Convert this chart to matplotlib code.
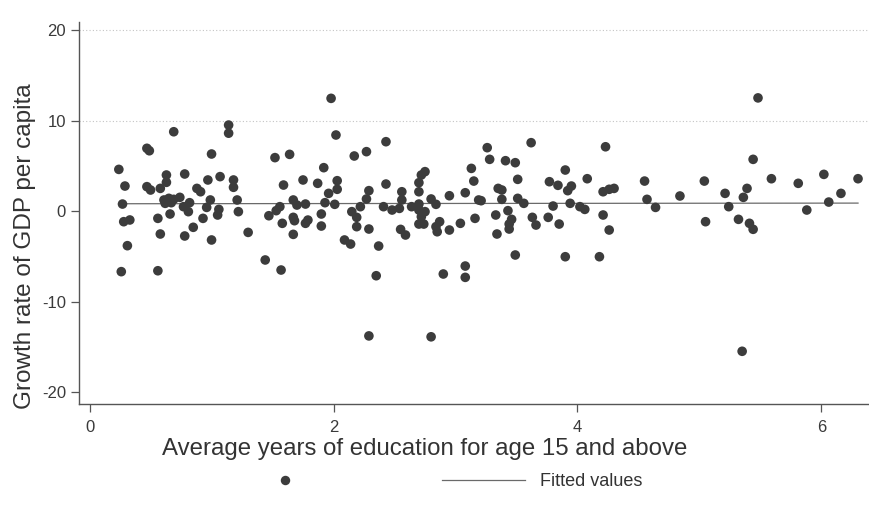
import matplotlib.pyplot as plt
from matplotlib.lines import Line2D
import numpy as np

plt.rcParams['font.family'] = ['Liberation Sans', 'DejaVu Sans']
plt.rcParams['axes.unicode_minus'] = False

# average years of schooling (age 15+) and GDP per capita growth, one pair per country
edu = [0.69, 0.47, 0.49, 1.00, 0.24, 0.29, 0.63, 0.78, 0.63, 0.47, 0.50, 0.58, 0.88, 0.91,
       0.97, 1.07, 1.14, 1.14, 0.27, 0.61, 0.65, 0.69, 0.74, 0.62, 0.67, 0.82, 0.77, 0.81,
       0.66, 0.99, 0.96, 1.06, 1.05, 0.28, 0.33, 0.56, 0.93, 0.85, 0.58, 0.78, 1.00, 0.31,
       0.26, 0.56,
       1.98, 2.02, 1.52, 1.64, 1.92, 1.18, 1.18, 1.59, 1.75, 1.87, 2.03, 2.03, 1.96, 1.21,
       1.22, 1.67, 1.70, 1.77, 1.93, 2.01, 1.56, 1.53, 1.47, 1.67, 1.68, 1.79, 1.77, 1.58,
       1.90, 1.90, 1.67, 1.30, 2.09, 2.14, 1.44, 1.57,
       2.43, 2.17, 2.27, 2.75, 2.72, 3.13, 3.15, 2.43, 2.29, 2.56, 2.70, 2.70, 2.95, 3.08,
       2.27, 2.56, 2.80, 2.84, 2.22, 2.15, 2.41, 2.48, 2.54, 2.64, 2.70, 2.70, 2.75, 2.19,
       2.19, 2.72, 2.70, 2.74, 2.84, 2.87, 2.85, 2.95, 3.04, 3.16, 3.19, 2.29, 2.55, 2.59,
       2.37, 2.35, 2.90, 3.08, 3.08, 2.29, 2.80,
       3.62, 3.26, 3.28, 3.41, 3.49, 3.90, 3.51, 4.08, 3.77, 3.84, 3.95, 3.92, 3.35, 3.38,
       3.38, 3.21, 3.51, 3.56, 3.80, 3.94, 4.02, 4.06, 3.33, 3.43, 3.46, 3.44, 3.44, 3.63,
       3.66, 3.76, 3.85, 3.34, 3.49, 3.90, 4.18,
       4.23, 4.21, 4.21, 4.26, 4.30, 4.26, 4.55, 4.57, 4.64, 4.84, 5.04, 5.05, 5.21, 5.24,
       5.48, 5.44, 5.59, 5.81, 6.02, 6.30, 5.39, 5.36, 6.16, 6.06, 5.88, 5.32, 5.41, 5.44,
       5.35]

growth = [8.76, 6.93, 6.66, 6.30, 4.60, 2.76, 3.98, 4.09, 3.17, 2.69, 2.32, 2.50, 2.50, 2.13,
          3.43, 3.80, 9.50, 8.60, 0.77, 1.22, 1.40, 1.29, 1.51, 0.85, 0.92, 0.92, 0.48, -0.07,
          -0.33, 1.22, 0.40, 0.18, -0.44, -1.18, -0.99, -0.81, -0.81, -1.80, -2.54, -2.76, -3.20, -3.83,
          -6.70, -6.60,
          12.45, 8.40, 5.90, 6.26, 4.79, 3.43, 2.62, 2.87, 3.43, 3.06, 3.35, 2.40, 1.95, 1.22,
          -0.07, 1.22, 0.66, 0.77, 0.92, 0.74, 0.48, 0.04, -0.52, -0.70, -1.07, -1.00, -1.36, -1.36,
          -0.33, -1.66, -2.58, -2.36, -3.20, -3.65, -5.41, -6.52,
          7.66, 6.08, 6.56, 4.35, 3.98, 4.71, 3.31, 2.98, 2.25, 2.13, 3.13, 2.13, 1.69, 2.02,
          1.33, 1.22, 1.33, 0.74, 0.48, -0.07, 0.48, 0.11, 0.29, 0.48, 0.77, 0.11, -0.07, -0.70,
          -1.73, -0.63, -1.44, -1.44, -1.73, -1.18, -2.29, -2.10, -1.36, -0.81, 1.22, -1.99, -2.03, -2.65,
          -3.87, -7.15, -6.96, -6.08, -7.33, -13.8, -13.9,
          7.55, 7.00, 5.71, 5.56, 5.34, 4.53, 3.50, 3.57, 3.24, 2.84, 2.76, 2.25, 2.50, 2.32,
          1.29, 1.14, 1.40, 0.85, 0.55, 0.85, 0.48, 0.18, -0.44, 0.04, -0.92, -1.44, -1.99, -0.70,
          -1.55, -0.70, -1.44, -2.54, -4.86, -5.05, -5.05,
          7.10, 2.13, -0.44, 2.40, 2.50, -2.10, 3.31, 1.29, 0.40, 1.66, 3.31, -1.18, 1.95, 0.48,
          12.50, 5.71, 3.57, 3.06, 4.05, 3.57, 2.50, 1.51, 1.95, 0.99, 0.11, -0.92, -1.36, -2.02,
          -15.5]

x_ticks = [0, 2, 4, 6]
y_ticks = [-20, -10, 0, 10, 20]

edu = np.array(edu)
growth = np.array(growth)

# simple OLS line over the observed range
slope, intercept = np.polyfit(edu, growth, 1)
xfit = np.array([edu.min(), edu.max()])
yfit = intercept + slope * xfit

fig = plt.figure(figsize=(8.69, 5.21), dpi=100)
ax = fig.add_axes([0.091, 0.225, 0.909, 0.733])

ax.scatter(edu, growth, s=48, color='#3c3c3c', edgecolors='none', zorder=3)
ax.plot(xfit, yfit, color='#6a6a6a', lw=0.9, zorder=2)

ax.set_xlim(-0.086, 6.39)
ax.set_ylim(-21.3, 20.9)
ax.set_xticks(x_ticks)
ax.set_yticks(y_ticks)

# faint dotted reference lines
for yv in [10, 20]:
    ax.axhline(yv, color='#c4c4c4', lw=0.8, ls=(0, (1, 2)), zorder=1)

for side in ['top', 'right']:
    ax.spines[side].set_visible(False)
for side in ['left', 'bottom']:
    ax.spines[side].set_color('#555555')
    ax.spines[side].set_linewidth(1.0)

ax.tick_params(axis='both', colors='#555555', length=6, width=0.9,
               labelsize=12, labelcolor='#3a3a3a')
ax.tick_params(axis='x', pad=6)

ax.set_xlabel('Average years of education for age 15 and above',
              fontsize=17.3, color='#333333', labelpad=2)
ax.xaxis.label.set_x(0.437)
ax.set_ylabel('Growth rate of GDP per capita', fontsize=17.5, color='#333333', labelpad=4)
ax.yaxis.label.set_y(0.412)

handles = [Line2D([], [], ls='none', marker='o', markersize=6.8,
                  markerfacecolor='#3c3c3c', markeredgecolor='none'),
           Line2D([], [], color='#6a6a6a', lw=0.9)]
fig.legend(handles, ['', 'Fitted values'], ncol=2, frameon=False,
           loc='center left', bbox_to_anchor=(0.27, 0.075),
           fontsize=13, handlelength=4.6, handletextpad=0.8,
           columnspacing=5.6, borderpad=0, labelcolor='#333333')

fig.savefig('out.png', dpi=100)
